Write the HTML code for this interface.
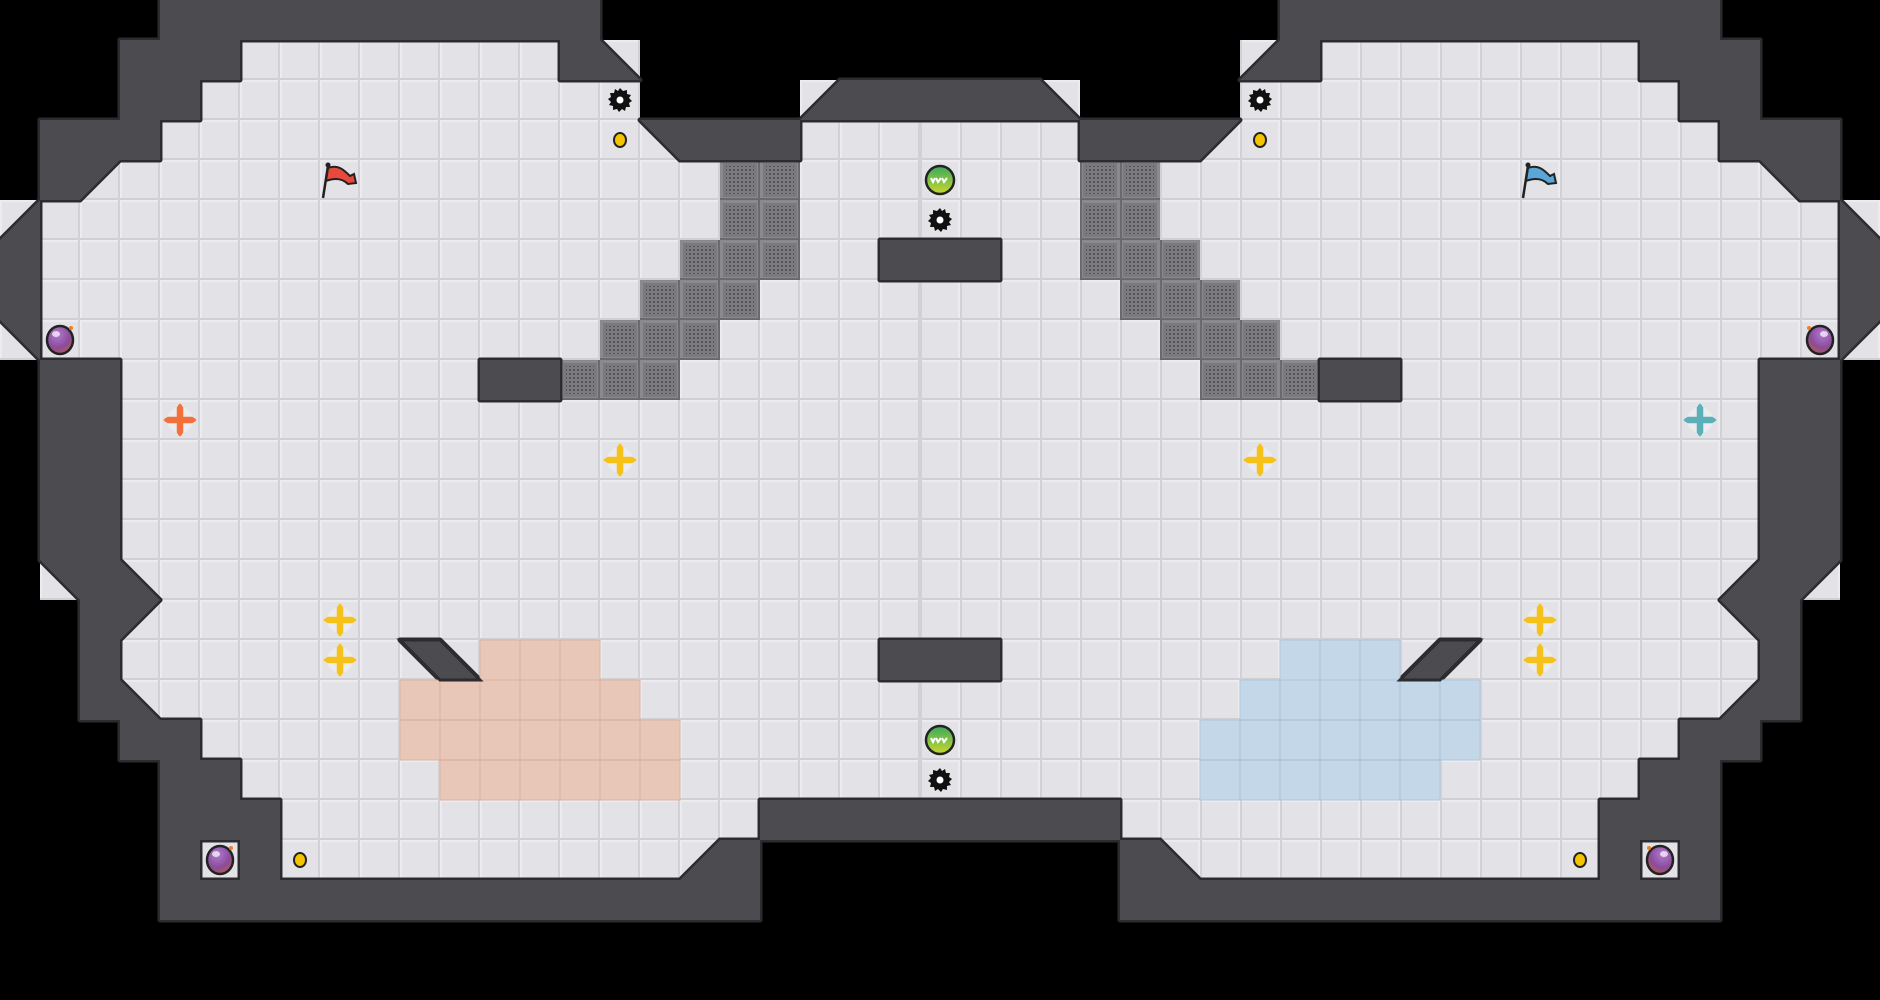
<!DOCTYPE html>
<html><head><meta charset="utf-8"><style>
html,body{margin:0;padding:0;background:#000;}
svg{display:block;}
</style></head><body>
<svg width="1880" height="1000" viewBox="0 0 1880 1000" xmlns="http://www.w3.org/2000/svg">
<defs>
<pattern id="fl" width="40" height="40" patternUnits="userSpaceOnUse">
<rect width="40" height="40" fill="#e3e3e7"/>
<rect x="0" y="0" width="40" height="2" fill="#ececf0"/>
<rect x="0" y="0" width="2" height="40" fill="#ececf0"/>
<rect x="0" y="38" width="40" height="2" fill="#cfcfd4"/>
<rect x="38" y="0" width="2" height="40" fill="#d2d2d6"/>
</pattern>
<pattern id="sp" width="40" height="40" patternUnits="userSpaceOnUse">
<rect width="40" height="40" fill="#8a8a8e"/>
<rect x="3" y="3" width="34" height="34" fill="#7a7a7e"/>
<g fill="#56565a">
<rect x="6" y="6" width="28" height="28" fill="url(#dots)"/>
</g>
<rect x="0" y="38" width="40" height="2" fill="#6a6a6e"/>
<rect x="38" y="0" width="2" height="40" fill="#6a6a6e"/>
</pattern>
<pattern id="dots" width="4" height="4" patternUnits="userSpaceOnUse">
<rect width="4" height="4" fill="#7c7c80"/>
<rect x="1" y="1" width="2" height="2" fill="#555559"/>
</pattern>
<radialGradient id="bomb" cx="0.4" cy="0.3" r="0.8">
<stop offset="0" stop-color="#b07ad0"/><stop offset="0.6" stop-color="#8a4c9a"/><stop offset="1" stop-color="#c0603a"/>
</radialGradient>
<linearGradient id="gb" x1="0" y1="0" x2="0" y2="1">
<stop offset="0" stop-color="#3aaa5a"/><stop offset="1" stop-color="#c8d830"/>
</linearGradient>
<g id="spike">
<polygon points="0,-12 3,-9 7,-10 7,-6 11,-5 9,-2 12,1 9,3 10,7 6,7 5,11 2,9 -1,12 -3,9 -7,10 -7,6 -11,5 -9,2 -12,-1 -9,-3 -10,-7 -6,-7 -5,-11 -2,-9" fill="#111"/>
<circle r="8.5" fill="#111"/>
<circle r="3.5" fill="#fff"/>
</g>
<g id="coin"><ellipse rx="6" ry="7" fill="#f5c400" stroke="#222" stroke-width="2"/></g>
<g id="bombi"><ellipse rx="13" ry="14" fill="url(#bomb)" stroke="#222" stroke-width="2.5"/><ellipse cx="-4" cy="-6" rx="4" ry="3" fill="#fff" opacity="0.7"/><circle cx="11" cy="-12" r="2" fill="#f08020"/></g>
<g id="boostY"><circle r="13" fill="#eeeef0" opacity="0.8"/><path d="M-2,-12 L0,-15 L2,-12 L2,-2 L12,-2 L15,0 L12,2 L2,2 L2,12 L0,15 L-2,12 L-2,2 L-12,2 L-15,0 L-12,-2 L-2,-2Z" fill="#f6c21a" stroke="#f6c21a" stroke-width="2.5" stroke-linejoin="round"/></g>
<g id="gball"><circle r="14" fill="url(#gb)" stroke="#222" stroke-width="2.5"/><path d="M-7,-2 l3,4 l2,-4 M-1,-2 l3,4 l2,-4 M5,-2 l2,4 l2,-4" stroke="#fff" stroke-width="2" fill="none"/></g>
</defs>

<g id="L">
<!-- floor -->
<g fill="url(#fl)">
<rect x="240" y="40" width="400" height="40"/>
<rect x="200" y="80" width="440" height="40"/>
<rect x="800" y="80" width="160" height="40"/>
<rect x="160" y="120" width="800" height="40"/>
<rect x="80" y="160" width="880" height="40"/>
<rect x="0" y="200" width="960" height="40"/>
<rect x="40" y="240" width="920" height="80"/>
<rect x="0" y="320" width="960" height="40"/>
<rect x="120" y="360" width="840" height="200"/>
<rect x="40" y="560" width="920" height="40"/>
<rect x="120" y="600" width="840" height="120"/>
<rect x="200" y="720" width="760" height="40"/>
<rect x="240" y="760" width="720" height="40"/>
<rect x="280" y="800" width="480" height="40"/>
<rect x="200" y="840" width="520" height="40"/>
</g>
<!-- speed tiles -->
<g fill="url(#sp)">
<rect x="720" y="160" width="80" height="80"/>
<rect x="680" y="240" width="120" height="40"/>
<rect x="640" y="280" width="120" height="40"/>
<rect x="600" y="320" width="120" height="40"/>
<rect x="560" y="360" width="120" height="40"/>
</g>
<!-- walls -->
<g id="W">
<rect x="160" y="0" width="440" height="40"/>
<rect x="120" y="40" width="120" height="40"/>
<rect x="560" y="40" width="40" height="40"/>
<rect x="120" y="80" width="80" height="40"/>
<rect x="840" y="80" width="120" height="40"/>
<rect x="40" y="120" width="120" height="40"/>
<rect x="680" y="120" width="120" height="40"/>
<rect x="40" y="160" width="40" height="40"/>
<rect x="0" y="240" width="40" height="80"/>
<rect x="880" y="240" width="80" height="40"/>
<rect x="40" y="360" width="80" height="200"/>
<rect x="480" y="360" width="80" height="40"/>
<rect x="80" y="560" width="40" height="160"/>
<rect x="880" y="640" width="80" height="40"/>
<rect x="120" y="720" width="80" height="40"/>
<rect x="160" y="760" width="80" height="40"/>
<rect x="160" y="800" width="120" height="40"/>
<rect x="760" y="800" width="200" height="40"/>
<rect x="160" y="840" width="40" height="40"/>
<rect x="240" y="840" width="40" height="40"/>
<rect x="720" y="840" width="40" height="40"/>
<rect x="160" y="880" width="600" height="40"/>
<polygon points="600,40 640,80 600,80"/>
<polygon points="840,80 840,120 800,120"/>
<polygon points="640,120 680,120 680,160"/>
<polygon points="80,160 120,160 80,200"/>
<polygon points="40,200 40,240 0,240"/>
<polygon points="0,320 40,320 40,360"/>
<polygon points="40,560 80,560 80,600"/>
<polygon points="120,560 160,600 120,600"/>
<polygon points="120,600 160,600 120,640"/>
<polygon points="120,680 160,720 120,720"/>
<polygon points="720,840 720,880 680,880"/>
<polygon points="400,640 440,640 480,680 440,680"/>
</g>
<!-- pocket frame -->
<rect x="201" y="841" width="38" height="38" fill="none" stroke="#2c2c30" stroke-width="3"/>
<!-- decor lines -->
<g stroke="#2c2c30" stroke-width="3">
<line x1="177" y1="35" x2="177" y2="60"/>
<line x1="137" y1="115" x2="137" y2="140"/>
<line x1="257" y1="875" x2="257" y2="900"/>
</g>
<!-- items -->
<use href="#spike" x="620" y="100"/>
<use href="#coin" x="620" y="140"/>
<use href="#bombi" x="60" y="340"/>
<use href="#boostY" x="620" y="460"/>
<use href="#boostY" x="340" y="620"/>
<use href="#boostY" x="340" y="660"/>
<use href="#bombi" x="220" y="860"/>
<use href="#coin" x="300" y="860"/>
<use href="#gball" x="940" y="180"/>
<use href="#spike" x="940" y="220"/>
<use href="#gball" x="940" y="740"/>
<use href="#spike" x="940" y="780"/>
</g>
<use href="#L" transform="translate(1880,0) scale(-1,1)"/>

<!-- wall styling: stroke outline then fill -->
<g fill="none" stroke="#2c2c30" stroke-width="5" stroke-linejoin="round">
<use href="#W"/>
<use href="#W" transform="translate(1880,0) scale(-1,1)"/>
</g>
<g fill="#4b4b50">
<use href="#W"/>
<use href="#W" transform="translate(1880,0) scale(-1,1)"/>
</g>

<!-- red zone -->
<g fill="#e8c6b8" stroke="#ddb4a4" stroke-width="1">
<rect x="480" y="640" width="120" height="40"/>
<rect x="400" y="680" width="240" height="40"/>
<rect x="400" y="720" width="280" height="40"/>
<rect x="440" y="760" width="240" height="40"/>
</g>
<!-- blue zone -->
<g fill="#c3d7e8" stroke="#b0c8dc" stroke-width="1">
<rect x="1280" y="640" width="120" height="40"/>
<rect x="1240" y="680" width="240" height="40"/>
<rect x="1200" y="720" width="280" height="40"/>
<rect x="1200" y="760" width="240" height="40"/>
</g>
<!-- tile grid over zones -->
<g stroke="#d8b0a0" stroke-width="1.5" fill="none" opacity="0.6">
<path d="M520,640V680M560,640V680M440,680V760M480,680V800M520,680V800M560,680V800M600,680V800M640,720V800M400,720H640M440,760H680"/>
</g>
<g stroke="#a8c0d6" stroke-width="1.5" fill="none" opacity="0.6">
<path d="M1320,640V680M1360,640V680M1280,680V800M1320,680V800M1360,680V800M1400,680V800M1440,680V760M1240,720V800M1240,720H1480M1200,760H1440"/>
</g>
<!-- thin bars redraw on zones -->
<polygon points="400,640 440,640 480,680 440,680" fill="#4b4b50" stroke="#2c2c30" stroke-width="3"/>
<polygon points="1480,640 1440,640 1400,680 1440,680" fill="#4b4b50" stroke="#2c2c30" stroke-width="3"/>

<!-- flags -->
<g>
<line x1="323" y1="198" x2="328" y2="166" stroke="#222" stroke-width="2.5"/>
<circle cx="328" cy="165" r="2.5" fill="#222"/>
<path d="M328,168 C338,164 344,170 350,176 L354,174 L356,183 L348,184 C342,178 334,178 326,181Z" fill="#e8493c" stroke="#222" stroke-width="2"/>
</g>
<g>
<line x1="1523" y1="198" x2="1528" y2="166" stroke="#222" stroke-width="2.5"/>
<circle cx="1528" cy="165" r="2.5" fill="#222"/>
<path d="M1528,168 C1538,164 1544,170 1550,176 L1554,174 L1556,183 L1548,184 C1542,178 1534,178 1526,181Z" fill="#5aa6d6" stroke="#222" stroke-width="2"/>
</g>
<!-- team boosts -->
<g transform="translate(180,420)"><circle r="13" fill="#eeeef0" opacity="0.8"/><path d="M-2,-12 L0,-15 L2,-12 L2,-2 L12,-2 L15,0 L12,2 L2,2 L2,12 L0,15 L-2,12 L-2,2 L-12,2 L-15,0 L-12,-2 L-2,-2Z" fill="#f2703a" stroke="#f2703a" stroke-width="2.5" stroke-linejoin="round"/></g>
<g transform="translate(1700,420)"><circle r="13" fill="#eeeef0" opacity="0.8"/><path d="M-2,-12 L0,-15 L2,-12 L2,-2 L12,-2 L15,0 L12,2 L2,2 L2,12 L0,15 L-2,12 L-2,2 L-12,2 L-15,0 L-12,-2 L-2,-2Z" fill="#5ab0b8" stroke="#5ab0b8" stroke-width="2.5" stroke-linejoin="round"/></g>
</svg>
</body></html>
